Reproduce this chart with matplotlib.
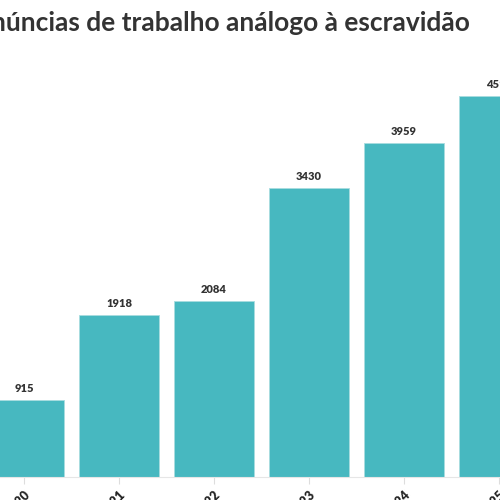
import matplotlib.pyplot as plt

anos = ['2020', '2021', '2022', '2023', '2024', '2025']
denuncias = [915, 1918, 2084, 3430, 3959, 4514]

plt.rcParams['font.family'] = ['Lato', 'DejaVu Sans']

fig = plt.figure(figsize=(5, 5), dpi=100)
# eixo maior que a figura: o recorte corta a esquerda e a direita
ax = fig.add_axes([-23.5 / 500, 23 / 500, 570 / 500, 422 / 500])

x = list(range(len(anos)))
bars = ax.bar(x, denuncias, width=0.85, color='#47b8c0', edgecolor='#a8dde0', linewidth=0.6)

for xi, v in zip(x, denuncias):
    ax.text(xi, v + 70, str(v), ha='center', va='bottom', fontsize=8,
            fontweight='heavy', color='#333333')

ax.set_xlim(-0.5, 5.5)
ax.set_ylim(0, 5000)
ax.set_xticks(x)
ax.set_xticklabels(anos, rotation=45, ha='right', rotation_mode='anchor',
                   fontsize=9, fontweight='heavy', color='#222222')
ax.tick_params(axis='x', length=5, color='#dddddd', pad=3)
ax.set_yticks([])
for s in ['top', 'right', 'left']:
    ax.spines[s].set_visible(False)
ax.spines['bottom'].set_color('#e6e6e6')

fig.text(470 / 500, 1 - 31 / 500, 'Denúncias de trabalho análogo à escravidão',
         ha='right', va='baseline', fontsize=19.0, fontweight='bold', color='#333333')

fig.savefig('out.png', dpi=100)
